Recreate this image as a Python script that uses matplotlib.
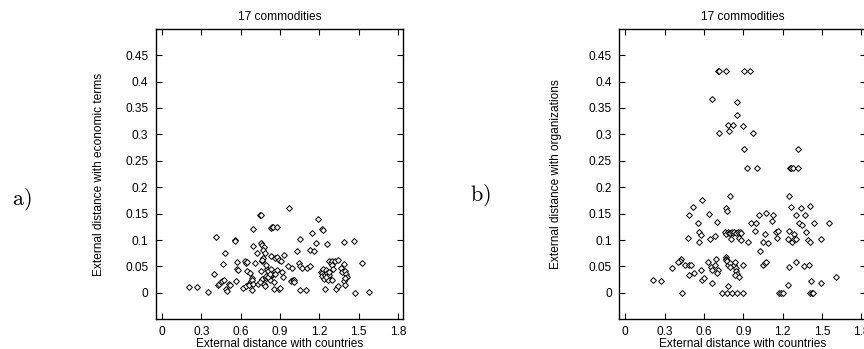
import matplotlib
matplotlib.use("Agg")
import matplotlib.pyplot as plt
import numpy as np

plt.rcParams['font.family'] = ['Liberation Sans', 'DejaVu Sans']
plt.rcParams['mathtext.fontset'] = 'cm'

# Panel a) : external distance with countries vs economic terms
xa = [0.204, 0.265, 0.35, 0.398, 0.416, 0.425, 0.435, 0.45, 0.455, 0.472,
      0.466, 0.48, 0.49, 0.495, 0.51, 0.517, 0.555, 0.56, 0.562, 0.57,
      0.58, 0.575, 0.62, 0.63, 0.64, 0.645, 0.65, 0.668, 0.64, 0.66,
      0.665, 0.676, 0.688, 0.684, 0.695, 0.688, 0.693, 0.698, 0.706, 0.723,
      0.751, 0.753, 0.756, 0.766, 0.781, 0.774, 0.786, 0.771, 0.762, 0.764,
      0.756, 0.761, 0.776, 0.786, 0.794, 0.799, 0.806, 0.813, 0.82, 0.83,
      0.838, 0.852, 0.857, 0.794, 0.83, 0.842, 0.848, 0.88, 0.83, 0.862,
      0.877, 0.892, 0.91, 0.928, 0.88, 0.89, 0.897, 0.918, 0.925, 0.958,
      0.97, 0.988, 0.983, 0.996, 1.006, 1.008, 1.033, 1.043, 1.053, 1.069,
      1.056, 1.056, 1.1, 1.109, 1.132, 1.13, 1.157, 1.144, 1.172, 1.187,
      1.222, 1.227, 1.213, 1.223, 1.218, 1.23, 1.235, 1.245, 1.243, 1.251,
      1.26, 1.266, 1.268, 1.275, 1.27, 1.255, 1.271, 1.286, 1.298, 1.316,
      1.344, 1.296, 1.306, 1.324, 1.342, 1.361, 1.372, 1.39, 1.396, 1.391,
      1.392, 1.404, 1.414, 1.394, 1.389, 1.467, 1.47, 1.525, 1.58, 0.79,
      0.81, 0.842, 0.735, 0.745, 0.82, 0.86, 1.3, 1.25]
ya = [0.0107, 0.012, 0.001, 0.036, 0.105, 0.014, 0.017, 0.020, 0.023, 0.025,
      0.055, 0.075, 0.007, 0.004, 0.016, 0.014, 0.100, 0.099, 0.023, 0.045,
      0.044, 0.058, 0.010, 0.061, 0.056, 0.059, 0.042, 0.038, 0.013, 0.017,
      0.015, 0.022, 0.028, 0.024, 0.017, 0.005, 0.121, 0.089, 0.056, 0.076,
      0.147, 0.148, 0.095, 0.091, 0.087, 0.081, 0.075, 0.066, 0.060, 0.063,
      0.042, 0.027, 0.017, 0.013, 0.028, 0.046, 0.042, 0.030, 0.024, 0.045,
      0.033, 0.021, 0.007, 0.032, 0.123, 0.125, 0.124, 0.124, 0.069, 0.066,
      0.068, 0.063, 0.061, 0.071, 0.044, 0.008, 0.009, 0.039, 0.030, 0.051,
      0.161, 0.047, 0.022, 0.025, 0.024, 0.021, 0.080, 0.056, 0.051, 0.047,
      0.102, 0.006, 0.006, 0.048, 0.051, 0.082, 0.080, 0.114, 0.094, 0.139,
      0.120, 0.119, 0.040, 0.038, 0.032, 0.046, 0.026, 0.007, 0.034, 0.043,
      0.037, 0.031, 0.025, 0.034, 0.040, 0.092, 0.060, 0.057, 0.060, 0.061,
      0.062, 0.052, 0.045, 0.008, 0.013, 0.047, 0.040, 0.022, 0.015, 0.055,
      0.042, 0.035, 0.030, 0.029, 0.097, 0.099, 0.000, 0.057, 0.001, 0.052,
      0.030, 0.036, 0.016, 0.020, 0.035, 0.035, 0.025, 0.030]

# Panel b) : external distance with countries vs organizations
xb = [0.704, 0.712, 0.771, 0.906, 0.95, 0.66, 0.855, 0.85, 0.78, 0.79,
      0.82, 0.899, 0.712, 0.975, 0.909, 1.318, 0.929, 1.004, 1.257, 1.267,
      1.275, 1.316, 0.801, 1.247, 0.589, 0.517, 0.489, 0.637, 0.77, 0.776,
      0.556, 0.701, 0.563, 0.581, 0.476, 0.566, 0.643, 0.684, 0.758, 0.768,
      0.781, 0.789, 0.801, 0.814, 0.822, 0.829, 0.845, 0.863, 0.876, 0.881,
      0.81, 0.87, 0.883, 0.932, 0.955, 0.998, 0.986, 1.02, 1.073, 1.124,
      1.119, 1.062, 1.047, 1.085, 1.024, 1.05, 1.062, 1.075, 1.152, 1.165,
      1.155, 1.247, 1.283, 1.237, 1.27, 1.288, 1.303, 1.265, 1.336, 1.405,
      1.303, 1.372, 1.324, 1.349, 1.441, 1.551, 1.375, 1.393, 1.408, 1.495,
      0.425, 0.415, 0.405, 0.356, 0.458, 0.484, 0.504, 0.489, 0.525, 0.574,
      0.586, 0.601, 0.21, 0.269, 0.435, 0.63, 0.65, 0.663, 0.684, 0.689,
      0.704, 0.696, 0.663, 0.765, 0.768, 0.771, 0.773, 0.784, 0.799, 0.801,
      0.827, 0.837, 0.842, 0.847, 0.852, 0.837, 0.865, 0.899, 0.781, 0.737,
      0.773, 0.812, 0.853, 0.901, 1.173, 1.185, 1.2, 1.244, 1.249, 1.3,
      1.362, 1.403, 1.416, 1.41, 1.423, 1.43, 1.495, 1.608]
yb = [0.420, 0.420, 0.420, 0.420, 0.420, 0.367, 0.361, 0.336, 0.317, 0.307,
      0.317, 0.316, 0.302, 0.303, 0.272, 0.273, 0.236, 0.236, 0.236, 0.236,
      0.236, 0.236, 0.183, 0.183, 0.176, 0.162, 0.147, 0.149, 0.160, 0.155,
      0.132, 0.134, 0.115, 0.110, 0.103, 0.096, 0.102, 0.108, 0.116, 0.111,
      0.116, 0.114, 0.113, 0.116, 0.113, 0.116, 0.114, 0.115, 0.115, 0.113,
      0.102, 0.103, 0.101, 0.096, 0.132, 0.132, 0.117, 0.147, 0.152, 0.147,
      0.136, 0.112, 0.096, 0.095, 0.080, 0.053, 0.057, 0.059, 0.115, 0.118,
      0.103, 0.117, 0.112, 0.102, 0.096, 0.102, 0.102, 0.163, 0.161, 0.165,
      0.147, 0.147, 0.132, 0.129, 0.132, 0.132, 0.115, 0.101, 0.096, 0.102,
      0.065, 0.061, 0.058, 0.048, 0.053, 0.053, 0.053, 0.033, 0.038, 0.043,
      0.025, 0.028, 0.025, 0.023, 0.000, 0.058, 0.049, 0.044, 0.053, 0.064,
      0.043, 0.037, 0.019, 0.067, 0.065, 0.062, 0.060, 0.053, 0.056, 0.049,
      0.052, 0.059, 0.047, 0.042, 0.036, 0.034, 0.031, 0.052, 0.013, 0.000,
      0.000, 0.000, 0.000, 0.000, 0.000, 0.000, 0.000, 0.015, 0.049, 0.058,
      0.050, 0.053, 0.023, 0.000, 0.000, 0.000, 0.018, 0.030]

title = "17 commodities"
xlabel = "External distance with countries"
ylabels = ["External distance with economic terms", "External distance with organizations"]
panel_tags = ["a)", "b)"]
xticks = [0, 0.3, 0.6, 0.9, 1.2, 1.5, 1.8]
xticklabels = ["0", "0.3", "0.6", "0.9", "1.2", "1.5", "1.8"]
yticks = [0, 0.05, 0.1, 0.15, 0.2, 0.25, 0.3, 0.35, 0.4, 0.45]
yticklabels = ["0", "0.05", "0.1", "0.15", "0.2", "0.25", "0.3", "0.35", "0.4", "0.45"]

W, H = 864, 349
FS = 8.6
fig = plt.figure(figsize=(W / 100, H / 100), dpi=100)

axw = 246.7 / W
axh = 290.6 / H
bottom = (H - 319.3) / H
lefts = [156 / W, 619.3 / W]
tag_x = [21.5 / W, 480 / W]
tag_y = [1 - 199 / H, 1 - 195 / H]
ylab_x = [-0.205, -0.232]

for i, (xs, ys) in enumerate([(xa, ya), (xb, yb)]):
    ax = fig.add_axes([lefts[i], bottom, axw, axh])
    ax.plot(xs, ys, linestyle='none', marker='D', markersize=3.0,
            markerfacecolor='white', markeredgecolor='black', markeredgewidth=0.7)
    ax.set_xlim(-0.045, 1.835)
    ax.set_ylim(-0.05, 0.5)
    ax.set_xticks(xticks)
    ax.set_xticklabels(xticklabels)
    ax.set_yticks(yticks)
    ax.set_yticklabels(yticklabels)
    ax.tick_params(direction='in', length=4, width=0.8, labelsize=FS,
                   top=True, right=True, pad=5.5, colors='black')
    ax.tick_params(axis='x', pad=4.5)
    for s in ax.spines.values():
        s.set_linewidth(1.0)
        s.set_color('black')
    ax.set_title(title, fontsize=FS, pad=6)
    ax.set_xlabel(xlabel, fontsize=FS, labelpad=0)
    ax.set_ylabel(ylabels[i], fontsize=FS)
    ax.yaxis.set_label_coords(ylab_x[i], 0.5)
    fig.text(tag_x[i], tag_y[i], r'$\mathrm{' + panel_tags[i] + '}$',
             fontsize=16, ha='center', va='center')

fig.savefig("out.png", dpi=100)
